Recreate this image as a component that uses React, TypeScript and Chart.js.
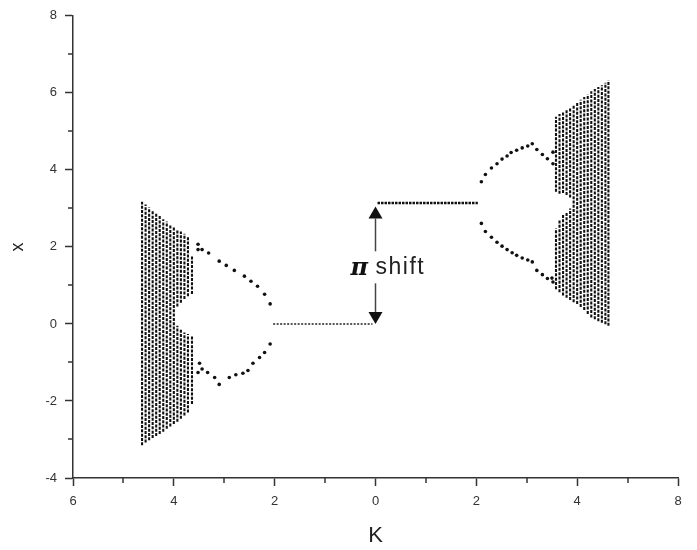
import React, { useEffect, useRef } from 'react';
import { Chart, registerables } from 'chart.js';

Chart.register(...registerables);

// ---- axis labels ----
const xTickLabels = ['6', '4', '2', '0', '2', '4', '8'];
const yTickLabels = ['-4', '-2', '0', '2', '4', '6', '8'];
const xTitle = 'K';
const yTitle = 'x';

// ---- flat (fixed-point) lines ----
const leftLineK = [-2.03, -0.06];
const leftLineX = [0, 0];
const rightLineK = [0.04, 2.03];
const rightLineX = [3.14, 3.14];

// ---- period-2 branches ----
const leftBranchK = [-3.52, -3.52, -3.44, -3.31, -3.10, -2.96, -2.80, -2.60, -2.47, -2.34, -2.20, -2.09,
  -2.09, -2.20, -2.30, -2.43, -2.53, -2.63, -2.77, -2.90, -3.10, -3.19, -3.33, -3.44, -3.49, -3.52];
const leftBranchX = [2.07, 1.93, 1.93, 1.84, 1.63, 1.52, 1.39, 1.24, 1.11, 0.98, 0.77, 0.52,
  -0.52, -0.74, -0.87, -1.02, -1.21, -1.28, -1.32, -1.39, -1.57, -1.39, -1.26, -1.17, -1.02, -1.26];

const rightBranchK = [2.10, 2.18, 2.30, 2.41, 2.51, 2.61, 2.69, 2.80, 2.91, 3.02, 3.11, 3.20, 3.31, 3.41, 3.52, 3.52,
  2.10, 2.18, 2.30, 2.41, 2.51, 2.61, 2.71, 2.80, 2.91, 3.02, 3.11, 3.20, 3.31, 3.41, 3.50, 3.52];
const rightBranchX = [3.69, 3.88, 4.05, 4.16, 4.28, 4.36, 4.45, 4.51, 4.57, 4.62, 4.68, 4.53, 4.40, 4.29, 4.46, 4.16,
  2.61, 2.40, 2.25, 2.12, 2.02, 1.93, 1.85, 1.78, 1.71, 1.66, 1.61, 1.39, 1.28, 1.18, 1.19, 1.09];

// ---- chaotic bands (columns of dots) ----
const leftBandK = [-4.63, -4.56, -4.49, -4.42, -4.35, -4.28, -4.21, -4.14, -4.07, -4.00, -3.93, -3.86, -3.79, -3.72, -3.64];
const leftBandTop = [3.17, 3.10, 3.02, 2.95, 2.88, 2.80, 2.72, 2.66, 2.58, 2.52, 2.45, 2.40, 2.34, 2.28, 1.78];
const leftBandBottom = [-3.15, -3.08, -3.02, -2.96, -2.91, -2.86, -2.80, -2.72, -2.66, -2.60, -2.54, -2.46, -2.38, -2.30, -2.08];
const leftBandGapLo = [null, null, null, null, null, null, null, null, null, null, -0.05, -0.15, -0.22, -0.26, -0.30];
const leftBandGapHi = [null, null, null, null, null, null, null, null, null, null, 0.45, 0.55, 0.65, 0.72, 0.78];

const rightBandK = [3.58, 3.65, 3.72, 3.79, 3.86, 3.93, 4.00, 4.07, 4.14, 4.21, 4.28, 4.35, 4.42, 4.49, 4.56, 4.62];
const rightBandTop = [5.38, 5.45, 5.50, 5.56, 5.62, 5.68, 5.74, 5.82, 5.89, 5.96, 6.04, 6.10, 6.15, 6.20, 6.26, 6.32];
const rightBandBottom = [0.90, 0.82, 0.74, 0.68, 0.62, 0.56, 0.52, 0.44, 0.36, 0.26, 0.17, 0.12, 0.07, 0.03, -0.01, -0.05];
const rightBandGapLo = [2.48, 2.70, 2.85, 2.90, 3.00, null, null, null, null, null, null, null, null, null, null, null];
const rightBandGapHi = [3.43, 3.38, 3.40, 3.35, 3.28, null, null, null, null, null, null, null, null, null, null, null];

// ---- pi-shift arrow annotation ----
const arrowK = 0;
const arrowFrom = 0;
const arrowTo = 3.05;
const arrowLabelAt = 1.47;
const arrowLabelPi = 'π';
const arrowLabelText = 'shift';

function pts(k: number[], v: number[]) {
  return k.map((kk, i) => ({ x: kk, y: v[i] }));
}

function bandPts(k: number[], top: number[], bottom: number[], gLo: (number | null)[], gHi: (number | null)[]) {
  const out: { x: number; y: number | null }[] = [];
  k.forEach((kk, i) => {
    const lo = gLo[i];
    const hi = gHi[i];
    if (lo !== null && hi !== null) {
      out.push({ x: kk, y: bottom[i] }, { x: kk, y: lo }, { x: kk, y: null });
      out.push({ x: kk, y: hi }, { x: kk, y: top[i] }, { x: kk, y: null });
    } else {
      out.push({ x: kk, y: bottom[i] }, { x: kk, y: top[i] }, { x: kk, y: null });
    }
  });
  return out;
}

const minorTicks = {
  id: 'minorTicks',
  afterDraw(chart: any) {
    const ctx = chart.ctx;
    const { x, y } = chart.scales;
    const area = chart.chartArea;
    ctx.save();
    ctx.strokeStyle = '#333';
    ctx.lineWidth = 1.5;
    x.ticks.forEach((t: any) => {
      if (Math.abs(t.value) % 2 === 1) {
        const px = Math.round(x.getPixelForValue(t.value));
        ctx.beginPath();
        ctx.moveTo(px, area.bottom);
        ctx.lineTo(px, area.bottom + 5);
        ctx.stroke();
      }
    });
    y.ticks.forEach((t: any) => {
      if (Math.abs(t.value) % 2 === 1) {
        const py = Math.round(y.getPixelForValue(t.value));
        ctx.beginPath();
        ctx.moveTo(area.left, py);
        ctx.lineTo(area.left - 5, py);
        ctx.stroke();
      }
    });
    ctx.restore();
  },
};

const piArrow = {
  id: 'piArrow',
  afterDatasetsDraw(chart: any) {
    const ctx = chart.ctx;
    const { x, y } = chart.scales;
    const px = x.getPixelForValue(arrowK);
    const pBottom = y.getPixelForValue(arrowFrom);
    const pTop = y.getPixelForValue(arrowTo);
    const pLabel = y.getPixelForValue(arrowLabelAt);
    const headH = 12;
    const headW = 7;
    ctx.save();
    ctx.strokeStyle = '#444';
    ctx.lineWidth = 1.5;
    ctx.beginPath();
    ctx.moveTo(px, pTop + headH);
    ctx.lineTo(px, pBottom - headH);
    ctx.stroke();
    ctx.fillStyle = '#111';
    ctx.beginPath();
    ctx.moveTo(px, pTop);
    ctx.lineTo(px - headW, pTop + headH);
    ctx.lineTo(px + headW, pTop + headH);
    ctx.closePath();
    ctx.fill();
    ctx.beginPath();
    ctx.moveTo(px, pBottom);
    ctx.lineTo(px - headW, pBottom - headH);
    ctx.lineTo(px + headW, pBottom - headH);
    ctx.closePath();
    ctx.fill();
    // label with white background
    ctx.fillStyle = '#fff';
    ctx.fillRect(px - 27, pLabel - 16, 88, 32);
    ctx.fillStyle = '#111';
    ctx.textBaseline = 'middle';
    ctx.textAlign = 'left';
    ctx.font = 'italic bold 24px "DejaVu Serif", serif';
    ctx.fillText(arrowLabelPi, px - 25, pLabel + 1);
    ctx.fillStyle = '#222';
    ctx.font = '23px "Liberation Sans", Arial, sans-serif';
    (ctx as any).letterSpacing = '1.5px';
    ctx.fillText(arrowLabelText, px, pLabel);
    ctx.restore();
  },
};

export default function App() {
  const ref = useRef<HTMLCanvasElement | null>(null);

  useEffect(() => {
    document.body.style.margin = '0';
    const canvas = ref.current;
    if (!canvas) return;
    const tickFont = { family: '"Liberation Sans", Arial, sans-serif', size: 13 };
    const chart = new Chart(canvas, {
      type: 'scatter',
      data: {
        datasets: [
          {
            data: bandPts(leftBandK, leftBandTop, leftBandBottom, leftBandGapLo, leftBandGapHi) as any,
            showLine: true,
            spanGaps: false,
            borderColor: '#111',
            borderWidth: 2.1,
            borderDash: [3, 1.3],
            pointRadius: 0,
          },
          {
            data: bandPts(rightBandK, rightBandTop, rightBandBottom, rightBandGapLo, rightBandGapHi) as any,
            showLine: true,
            spanGaps: false,
            borderColor: '#111',
            borderWidth: 2.1,
            borderDash: [3, 1.3],
            pointRadius: 0,
          },
          {
            data: pts(leftLineK, leftLineX),
            showLine: true,
            borderColor: '#222',
            borderWidth: 1.5,
            borderDash: [2, 1.5],
            pointRadius: 0,
          },
          {
            data: pts(rightLineK, rightLineX),
            showLine: true,
            borderColor: '#111',
            borderWidth: 2.5,
            borderDash: [2.5, 1],
            pointRadius: 0,
          },
          {
            data: pts(leftBranchK, leftBranchX),
            pointRadius: 1.8,
            pointBackgroundColor: '#111',
            pointBorderWidth: 0,
          },
          {
            data: pts(rightBranchK, rightBranchX),
            pointRadius: 1.8,
            pointBackgroundColor: '#111',
            pointBorderWidth: 0,
          },
        ],
      },
      options: {
        responsive: false,
        animation: false,
        events: [],
        layout: { padding: { left: 0, right: 19, top: 13, bottom: 0 } },
        plugins: {
          legend: { display: false },
          tooltip: { enabled: false },
        },
        scales: {
          x: {
            type: 'linear',
            min: -6,
            max: 6,
            afterFit: (s: any) => { s.height = 72; },
            border: { display: true, color: '#333', width: 1.5 },
            grid: {
              drawOnChartArea: false,
              drawTicks: true,
              tickLength: 8,
              tickWidth: 1.5,
              tickColor: (c: any) => (c.tick && Math.abs(c.tick.value) % 2 === 0 ? '#333' : 'rgba(0,0,0,0)'),
            },
            ticks: {
              stepSize: 1,
              autoSkip: false,
              maxRotation: 0,
              padding: 8,
              color: '#333',
              font: tickFont,
              callback: (v: any) => (Math.abs(v) % 2 === 0 ? xTickLabels[(v + 6) / 2] : ''),
            },
            title: {
              display: true,
              text: xTitle,
              color: '#222',
              font: { family: '"Liberation Sans", Arial, sans-serif', size: 22 },
              padding: { top: 0, bottom: 1 },
            },
          },
          y: {
            type: 'linear',
            min: -4,
            max: 8,
            afterFit: (s: any) => { s.width = 73; },
            border: { display: true, color: '#333', width: 1.5 },
            grid: {
              drawOnChartArea: false,
              drawTicks: true,
              tickLength: 8,
              tickWidth: 1.5,
              tickColor: (c: any) => (c.tick && Math.abs(c.tick.value) % 2 === 0 ? '#333' : 'rgba(0,0,0,0)'),
            },
            ticks: {
              stepSize: 1,
              autoSkip: false,
              padding: 8,
              color: '#333',
              font: tickFont,
              callback: (v: any) => (Math.abs(v) % 2 === 0 ? yTickLabels[(v + 4) / 2] : ''),
            },
            title: {
              display: true,
              text: yTitle,
              color: '#222',
              font: { family: '"Liberation Sans", Arial, sans-serif', size: 18 },
              padding: { top: 7, bottom: 0 },
            },
          },
        },
      },
      plugins: [minorTicks, piArrow],
    });
    return () => chart.destroy();
  }, []);

  return <canvas ref={ref} width={697} height={550} style={{ display: 'block' }} />;
}
